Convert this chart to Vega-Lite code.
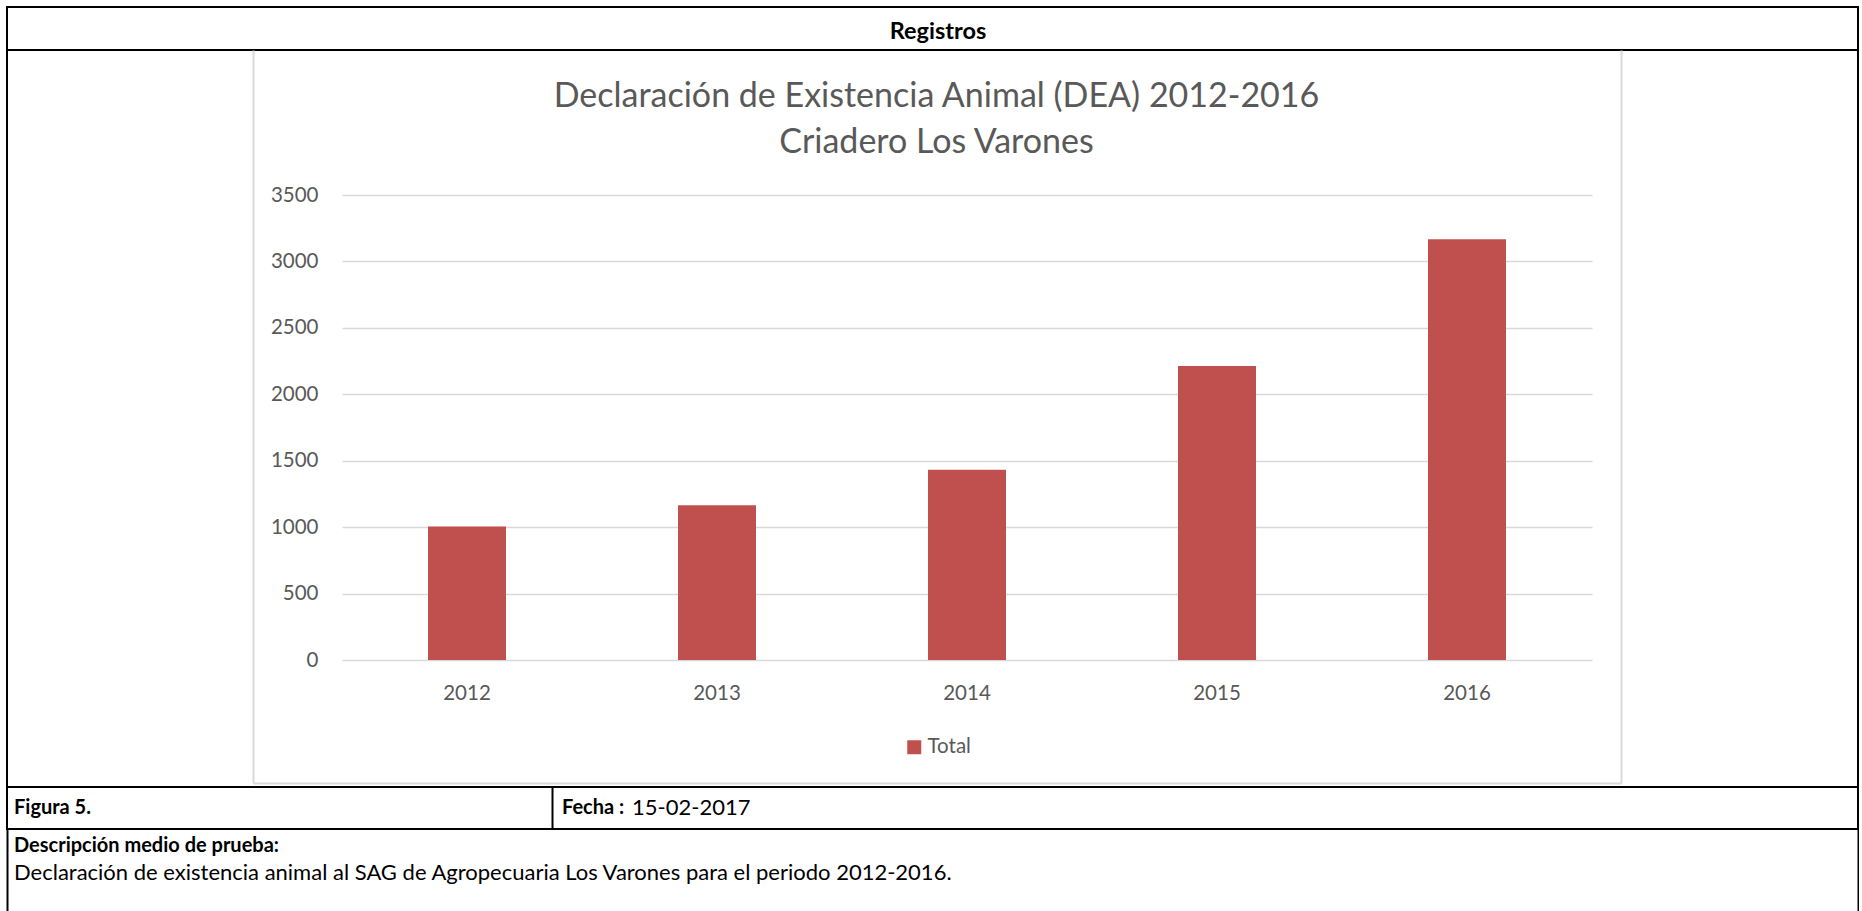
{
  "$schema": "https://vega.github.io/schema/vega-lite/v6.json",
  "padding": {"left": 6, "top": 6, "right": 0, "bottom": 0},
  "background": "white",
  "config": {"view": {"stroke": "black", "strokeWidth": 2}, "font": "Lato"},
  "bounds": "flush",
  "spacing": 0,
  "vconcat": [
    {
      "width": 1851,
      "height": 43,
      "data": {"values": [{"label": "Registros"}]},
      "mark": {"type": "text", "font": "Lato", "fontWeight": "bold", "fontSize": 23.5, "color": "black", "baseline": "middle", "align": "center"},
      "encoding": {
        "text": {"field": "label", "type": "nominal"},
        "x": {"field": "label", "type": "nominal", "scale": {"type": "point", "range": [931, 931]}, "axis": null},
        "y": {"datum": 0.42, "type": "quantitative", "scale": {"domain": [0, 1]}, "axis": null}
      }
    },
    {
      "width": 1851,
      "height": 737,
      "title": {
        "text": ["Declaración de Existencia Animal (DEA) 2012-2016", "Criadero Los Varones"],
        "anchor": "middle",
        "frame": "group",
        "orient": "top",
        "offset": -143.5,
        "dx": 4,
        "baseline": "bottom",
        "font": "Lato",
        "fontSize": 34,
        "fontWeight": "normal",
        "color": "#595959",
        "lineHeight": 46
      },
      "layer": [
        {
          "data": {"values": [
            {"year": "2012", "total": 1004},
            {"year": "2013", "total": 1164},
            {"year": "2014", "total": 1432},
            {"year": "2015", "total": 2213},
            {"year": "2016", "total": 3167}
          ]},
          "mark": {"type": "bar", "color": "#c0504d"},
          "encoding": {
            "x": {"field": "year", "type": "nominal", "sort": null,
              "scale": {"range": [335, 1585], "paddingInner": 0.688, "paddingOuter": 0.344},
              "axis": {"orient": "bottom", "offset": -127, "domain": false, "ticks": false, "tickSize": 0, "labelPadding": 23.5, "labelFont": "Lato", "labelFontSize": 20.5, "labelColor": "#595959", "labelAngle": 0, "title": null, "grid": false}},
            "y": {"field": "total", "type": "quantitative",
              "scale": {"domain": [0, 3500], "range": [610, 145], "nice": false},
              "axis": {"orient": "left", "offset": -335, "values": [0, 500, 1000, 1500, 2000, 2500, 3000, 3500], "format": "d", "grid": true, "gridColor": "#d9d9d9", "gridWidth": 1.5, "domain": false, "ticks": false, "tickSize": 0, "labelPadding": 24, "labelFont": "Lato", "labelFontSize": 20.5, "labelColor": "#595959", "title": null}},
            "color": {"datum": "Total", "type": "nominal", "scale": {"range": ["#c0504d"]},
              "legend": {"orient": "none", "legendX": 897, "legendY": 730, "title": null, "symbolType": "square", "symbolSize": 196, "symbolStrokeWidth": 0, "labelFont": "Lato", "labelFontSize": 20.5, "labelColor": "#595959", "labelOffset": 3, "padding": 0}}
          }
        },
        {
          "data": {"values": [{}]},
          "mark": {"type": "point", "opacity": 0},
          "encoding": {
            "x": {"datum": 0, "type": "quantitative", "scale": {"domain": [0, 1], "range": [246, 1614]}, "axis": {"orient": "bottom", "offset": -4, "domain": true, "domainColor": "#d9d9d9", "domainWidth": 2, "labels": false, "ticks": false, "grid": false, "title": null}},
            "y": {"datum": 0, "type": "quantitative", "scale": {"domain": [0, 1], "range": [733, 0]}, "axis": {"orient": "left", "offset": -246, "domain": true, "domainColor": "#d9d9d9", "domainWidth": 2, "labels": false, "ticks": false, "grid": false, "title": null}}
          }
        },
        {
          "data": {"values": [{}]},
          "mark": {"type": "rule", "opacity": 0},
          "encoding": {
            "y": {"datum": 0, "type": "quantitative", "scale": {"domain": [0, 1], "range": [733, 0]}, "axis": {"orient": "right", "offset": -237, "domain": true, "domainColor": "#d9d9d9", "domainWidth": 2, "labels": false, "ticks": false, "grid": false, "title": null}}
          }
        }
      ],
      "resolve": {"scale": {"x": "independent", "y": "independent"}, "axis": {"x": "independent", "y": "independent"}}
    },
    {
      "width": 1851,
      "height": 42,
      "layer": [
        {
          "data": {"values": [{"label": "Figura 5."}]},
          "mark": {"type": "text", "font": "Lato", "fontWeight": "bold", "fontSize": 20, "color": "black", "align": "left", "baseline": "middle"},
          "encoding": {
            "text": {"field": "label", "type": "nominal"},
            "x": {"field": "label", "type": "nominal", "scale": {"type": "point", "range": [7, 7]}, "axis": null},
            "y": {"datum": 0.5, "type": "quantitative", "scale": {"domain": [0, 1]}, "axis": {"orient": "left", "offset": -545, "domain": true, "domainColor": "black", "domainWidth": 2, "labels": false, "ticks": false, "grid": false, "title": null}}
          }
        },
        {
          "data": {"values": [{"label": "Fecha :"}]},
          "mark": {"type": "text", "font": "Lato", "fontWeight": "bold", "fontSize": 20, "color": "black", "align": "left", "baseline": "middle"},
          "encoding": {
            "text": {"field": "label", "type": "nominal"},
            "x": {"field": "label", "type": "nominal", "scale": {"type": "point", "range": [555, 555]}, "axis": null}
          }
        },
        {
          "data": {"values": [{"label": "15-02-2017"}]},
          "mark": {"type": "text", "font": "Lato", "fontWeight": "normal", "fontSize": 22, "color": "black", "align": "left", "baseline": "middle"},
          "encoding": {
            "text": {"field": "label", "type": "nominal"},
            "x": {"field": "label", "type": "nominal", "scale": {"type": "point", "range": [625, 625]}, "axis": null}
          }
        }
      ],
      "resolve": {"scale": {"x": "independent"}}
    },
    {
      "width": 1851,
      "height": 82,
      "view": {"stroke": null},
      "layer": [
        {
          "data": {"values": [{"label": "Descripción medio de prueba:"}]},
          "mark": {"type": "text", "font": "Lato", "fontWeight": "bold", "fontSize": 20, "color": "black", "align": "left", "baseline": "middle"},
          "encoding": {
            "text": {"field": "label", "type": "nominal"},
            "x": {"field": "label", "type": "nominal", "scale": {"type": "point", "domain": ["Descripción medio de prueba:", "Declaración de existencia animal al SAG de Agropecuaria Los Varones para el periodo 2012-2016."], "range": [7, 7]}, "axis": null},
            "y": {"field": "label", "type": "nominal", "scale": {"type": "point", "domain": ["Descripción medio de prueba:", "Declaración de existencia animal al SAG de Agropecuaria Los Varones para el periodo 2012-2016."], "range": [0, 82], "padding": 1.0185, "align": 0.31}, "axis": {"orient": "left", "labels": false, "ticks": false, "grid": false, "domain": true, "domainColor": "black", "domainWidth": 2, "title": null}}
          }
        },
        {
          "data": {"values": [{"label": "Declaración de existencia animal al SAG de Agropecuaria Los Varones para el periodo 2012-2016."}]},
          "mark": {"type": "text", "font": "Lato", "fontWeight": "normal", "fontSize": 22, "color": "black", "align": "left", "baseline": "middle"},
          "encoding": {
            "text": {"field": "label", "type": "nominal"},
            "x": {"field": "label", "type": "nominal", "scale": {"type": "point", "domain": ["Descripción medio de prueba:", "Declaración de existencia animal al SAG de Agropecuaria Los Varones para el periodo 2012-2016."], "range": [7, 7]}, "axis": null},
            "y": {"field": "label", "type": "nominal", "scale": {"type": "point", "domain": ["Descripción medio de prueba:", "Declaración de existencia animal al SAG de Agropecuaria Los Varones para el periodo 2012-2016."], "range": [0, 82], "padding": 1.0185, "align": 0.31}, "axis": {"orient": "right", "labels": false, "ticks": false, "grid": false, "domain": true, "domainColor": "black", "domainWidth": 2, "title": null}}
          }
        }
      ],
      "resolve": {"axis": {"y": "independent"}}
    }
  ]
}
